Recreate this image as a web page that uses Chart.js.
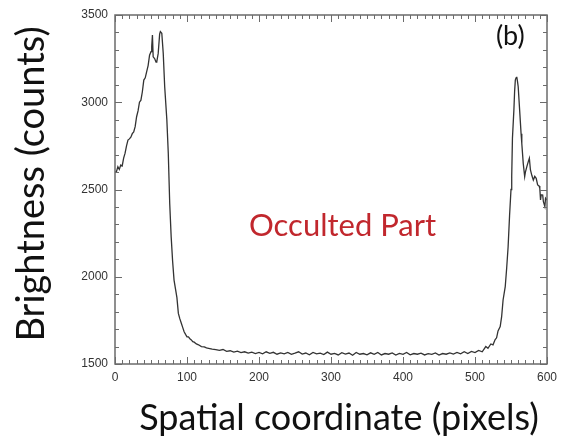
<!DOCTYPE html>
<html>
<head>
<meta charset="utf-8">
<script src="https://cdn.jsdelivr.net/npm/chart.js@4.4.1/dist/chart.umd.min.js"></script>
<style>
html,body{margin:0;padding:0;background:#fff;}
#wrap{width:565px;height:442px;position:relative;}
</style>
</head>
<body>
<div id="wrap"><canvas id="c" width="565" height="442"></canvas></div>
<script>
// Spatial coordinate (pixels)
const xs = [0,2,4,6,8,10,12,14,16,18,20,22,24,26,28,30,32,34,36,38,40,42,44,46,48,50,51,52,53,55,57,58,60,62,63,65,67,69,72,74,76,78,80,82,84,86,88,90,92,94,96,98,100,102,104,106,108,110,113,116,120,124,127,
130,135,140,145,150,155,160,165,170,175,180,185,190,195,200,205,210,215,220,225,230,235,240,245,250,255,260,265,270,275,280,285,290,295,300,305,310,315,320,325,330,335,340,345,350,355,360,365,370,375,380,385,390,395,400,405,410,415,420,425,430,435,440,445,450,455,460,465,470,475,480,485,490,495,500,505,510,515,518,522,525,528,530,532,535,537,539,542,544,546,548,550,551,552,554,555,556,557,558,559,560,562,564,565,567,569,570,572,574,575.5,577,579,581,583,585,587,589,590,591,592,594,595,597,598,600];
// Brightness (counts)
const ys = [2600,2602,2631,2615,2640,2635,2680,2708,2750,2783,2790,2800,2820,2830,2860,2917,2950,3000,3012,3060,3127,3140,3175,3210,3270,3290,3320,3385,3260,3250,3230,3232,3280,3390,3405,3395,3280,3090,2900,2708,2420,2230,2090,1981,1930,1880,1790,1760,1735,1710,1685,1670,1656,1655,1645,1638,1628,1625,1615,1610,1600,1598,1592,
1590,1585,1582,1578,1583,1572,1576,1568,1574,1565,1570,1562,1568,1560,1566,1558,1570,1561,1567,1556,1564,1558,1566,1555,1562,1570,1557,1563,1553,1566,1558,1562,1554,1568,1556,1561,1552,1565,1557,1563,1550,1566,1556,1560,1553,1564,1555,1566,1552,1560,1556,1563,1551,1561,1555,1566,1553,1560,1556,1562,1552,1559,1555,1563,1551,1560,1556,1564,1557,1566,1558,1570,1560,1572,1565,1578,1570,1600,1590,1615,1610,1640,1650,1690,1714,1771,1867,1943,2050,2172,2350,2500,2574,2793,2955,3060,3127,3140,3146,3120,3089,2955,2820,2764,2650,2574,2600,2631,2660,2679,2612,2580,2554,2575,2564,2526,2520,2507,2440,2470,2468,2430,2402,2450,2440];
const xTicks = [0,100,200,300,400,500,600];
const yTicks = [1500,2000,2500,3000,3500];
const xTitle = 'Spatial coordinate (pixels)';
const yTitle = 'Brightness (counts)';
const noteText = 'Occulted Part';
const panelText = '(b)';

const points = xs.map((x,i)=>({x:x,y:ys[i]}));

const framePlugin = {
  id:'frame',
  afterDraw(chart){
    const {ctx, chartArea:a, scales} = chart;
    const sx = scales.x, sy = scales.y;
    ctx.save();
    ctx.strokeStyle = '#6b6b6b';
    ctx.lineWidth = 1.5;
    ctx.strokeRect(a.left, a.top, a.right-a.left, a.bottom-a.top);
    ctx.lineWidth = 1;
    for(let v=0; v<=600; v+=10){
      const p = Math.round(sx.getPixelForValue(v))+0.5;
      const L = (v%100===0)?7:4;
      ctx.beginPath();
      ctx.moveTo(p,a.bottom); ctx.lineTo(p,a.bottom-L);
      ctx.moveTo(p,a.top); ctx.lineTo(p,a.top+L);
      ctx.stroke();
    }
    for(let v=1500; v<=3500; v+=100){
      const p = Math.round(sy.getPixelForValue(v))+0.5;
      const L = (v%500===0)?7:4;
      ctx.beginPath();
      ctx.moveTo(a.left,p); ctx.lineTo(a.left+L,p);
      ctx.moveTo(a.right,p); ctx.lineTo(a.right-L,p);
      ctx.stroke();
    }
    // annotations
    ctx.textAlign='center'; ctx.textBaseline='alphabetic';
    ctx.fillStyle='#c1272d';
    ctx.font='31px Lato, "Open Sans", sans-serif';
    ctx.fillText(noteText, sx.getPixelForValue(316), sy.getPixelForValue(2235));
    ctx.fillStyle='#111';
    ctx.font='27px Lato, "Open Sans", sans-serif';
    ctx.fillText(panelText, sx.getPixelForValue(549), sy.getPixelForValue(3330));
    // axis titles
    ctx.fillStyle='#111';
    ctx.font='36px Lato, "Open Sans", sans-serif';
    ctx.fillText(xTitle, 339, 430);
    ctx.save();
    ctx.translate(44, 184);
    ctx.rotate(-Math.PI/2);
    ctx.font='38px Lato, "Open Sans", sans-serif';
    ctx.fillText(yTitle, 0, 0);
    ctx.restore();
    ctx.restore();
  }
};

new Chart(document.getElementById('c'), {
  type:'scatter',
  data:{datasets:[{data:points, showLine:true, borderColor:'#333', borderWidth:1.3, pointRadius:0, tension:0, fill:false}]},
  options:{
    responsive:false, animation:false,
    layout:{padding:{top:15,right:18,left:0,bottom:0}},
    plugins:{legend:{display:false}, tooltip:{enabled:false}},
    scales:{
      x:{type:'linear', min:0, max:600,
        afterBuildTicks(s){ s.ticks = xTicks.map(v=>({value:v})); },
        afterFit(s){ s.height = 78; },
        grid:{display:false, drawTicks:false}, border:{display:false},
        ticks:{padding:6, color:'#333', font:{family:'Liberation Sans, Arial', size:12}, maxRotation:0, callback:v=>String(v)},
        title:{display:false, text:xTitle}
      },
      y:{type:'linear', min:1500, max:3500,
        afterBuildTicks(s){ s.ticks = yTicks.map(v=>({value:v})); },
        afterFit(s){ s.width = 115; },
        grid:{display:false, drawTicks:false}, border:{display:false},
        ticks:{padding:7, color:'#333', font:{family:'Liberation Sans, Arial', size:12}, callback:v=>String(v)},
        title:{display:false, text:yTitle}
      }
    }
  },
  plugins:[framePlugin]
});
</script>
</body>
</html>
